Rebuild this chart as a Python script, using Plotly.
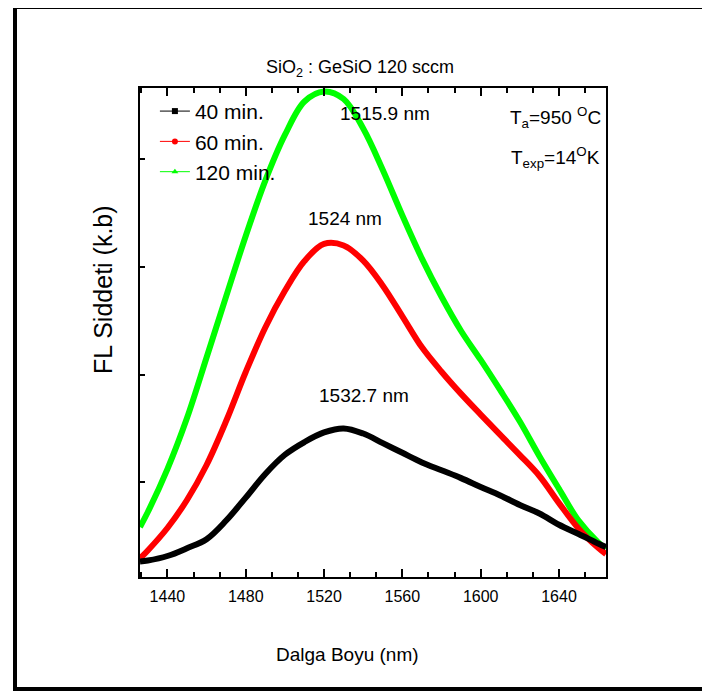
import plotly.graph_objects as go

# Wavelength grid (nm)
wavelength = [1426, 1430, 1440, 1450, 1460, 1470, 1480, 1490, 1500, 1510, 1520, 1530,
              1540, 1550, 1560, 1570, 1580, 1590, 1600, 1610, 1620, 1630, 1640, 1650,
              1660, 1664]

# PL intensity (arbitrary units)
int_40 = [0.265, 0.274, 0.316, 0.388, 0.472, 0.645, 0.858, 1.078, 1.256, 1.374, 1.463, 1.500,
          1.453, 1.364, 1.274, 1.185, 1.112, 1.039, 0.957, 0.878, 0.790, 0.711, 0.606, 0.521,
          0.432, 0.399]
int_60 = [0.293, 0.367, 0.576, 0.836, 1.161, 1.569, 2.024, 2.438, 2.778, 3.055, 3.213, 3.199,
          3.059, 2.826, 2.541, 2.253, 2.027, 1.821, 1.629, 1.440, 1.253, 1.059, 0.807, 0.570,
          0.392, 0.334]
int_120 = [0.585, 0.724, 1.123, 1.597, 2.159, 2.726, 3.287, 3.801, 4.225, 4.536, 4.629, 4.559,
           4.285, 3.900, 3.477, 3.077, 2.723, 2.405, 2.136, 1.855, 1.564, 1.242, 0.939, 0.644,
           0.443, 0.385]

series_names = ["40 min.", "60 min.", "120 min."]
series_colors = ["#000000", "#ff0000", "#00ff00"]
series_symbols = ["square", "circle", "triangle-up"]
series_data = [int_40, int_60, int_120]

x_ticks = [1440, 1480, 1520, 1560, 1600, 1640]
y_ticks = [1, 2, 3, 4]

FONT = "Liberation Sans, Arial, sans-serif"

# page body has an 8px margin: layout coords = screen coords - OFF
OFF = 8
FIG_W, FIG_H = 700, 684
PX0, PX1, PY0, PY1 = 140 - OFF, 606 - OFF, 88 - OFF, 577 - OFF

fig = go.Figure()

# draw order: green first, then red, then black on top
for name, col, data in list(zip(series_names, series_colors, series_data))[::-1]:
    fig.add_trace(go.Scatter(
        x=wavelength, y=data, mode="lines", name=name,
        line=dict(color=col, width=6, shape="spline", smoothing=1.0),
        showlegend=False, hoverinfo="skip"))

# legend entries (thin line + marker)
for name, col, sym in zip(series_names, series_colors, series_symbols):
    fig.add_trace(go.Scatter(
        x=[None], y=[None], mode="lines+markers", name=name,
        line=dict(color=col, width=1),
        marker=dict(color=col, symbol=sym, size=6),
        showlegend=True))

fig.update_layout(
    width=FIG_W, height=FIG_H,
    margin=dict(l=PX0, r=FIG_W - PX1, t=PY0, b=FIG_H - PY1),
    paper_bgcolor="white", plot_bgcolor="white",
    font=dict(family=FONT, color="black", size=16),
    showlegend=True,
    legend=dict(x=0.032, y=0.994, xanchor="left", yanchor="top",
                bgcolor="rgba(0,0,0,0)", font=dict(size=21, family=FONT),
                tracegroupgap=0),
)

fig.update_xaxes(
    range=[1426, 1664], tickvals=x_ticks, ticks="inside", ticklen=8, tickwidth=1.5,
    tickcolor="black", showline=True, linewidth=2, linecolor="black", mirror="ticks",
    showgrid=False, zeroline=False, tickfont=dict(size=16, family=FONT),
    ticklabelstandoff=4,
    minor=dict(tick0=1440, dtick=40 / 3, ticks="inside", ticklen=5, tickwidth=1.5,
               tickcolor="black", showgrid=False),
)
fig.update_yaxes(
    range=[0.121, 4.661], tickvals=y_ticks, ticks="inside", ticklen=5, tickwidth=1.5,
    tickcolor="black", showticklabels=False, showline=True, linewidth=2,
    linecolor="black", mirror=True, showgrid=False, zeroline=False,
)


def px2paper(sx, sy):
    lx, ly = sx - OFF, sy - OFF
    return (lx - PX0) / (PX1 - PX0), (PY1 - ly) / (PY1 - PY0)


annotations = [
    dict(text="SiO<sub>2</sub> : GeSiO 120 sccm", x=360, y=68, size=18),
    dict(text="Dalga Boyu (nm)", x=347, y=654, size=19),
    dict(text="1515.9 nm", x=385, y=114, size=19),
    dict(text="1524 nm", x=345, y=218, size=19),
    dict(text="1532.7 nm", x=364, y=395, size=19),
    dict(text="T<sub>a</sub>=950 <sup>O</sup>C", x=555, y=117, size=19),
    dict(text="T<sub>exp</sub>=14<sup>O</sup>K", x=555, y=157, size=19),
]
for a in annotations:
    px, py = px2paper(a["x"], a["y"])
    fig.add_annotation(
        text=a["text"], xref="paper", yref="paper", x=px, y=py,
        xanchor="center", yanchor="middle", showarrow=False,
        font=dict(size=a["size"], family=FONT, color="black"))

tx, ty = px2paper(103, 290)
fig.add_annotation(
    text="FL Siddeti (k.b)", xref="paper", yref="paper", x=tx, y=ty, textangle=-90,
    xanchor="center", yanchor="middle", showarrow=False,
    font=dict(size=25, family=FONT, color="black"))

# outer frame
fx0, fy0 = px2paper(15, 689)
fx1, fy1 = px2paper(705, 7)
fig.add_shape(type="rect", xref="paper", yref="paper",
              x0=fx0, x1=fx1, y0=fy0, y1=fy1,
              line=dict(color="black", width=4), fillcolor="rgba(0,0,0,0)")

fig.write_html("out.html")
